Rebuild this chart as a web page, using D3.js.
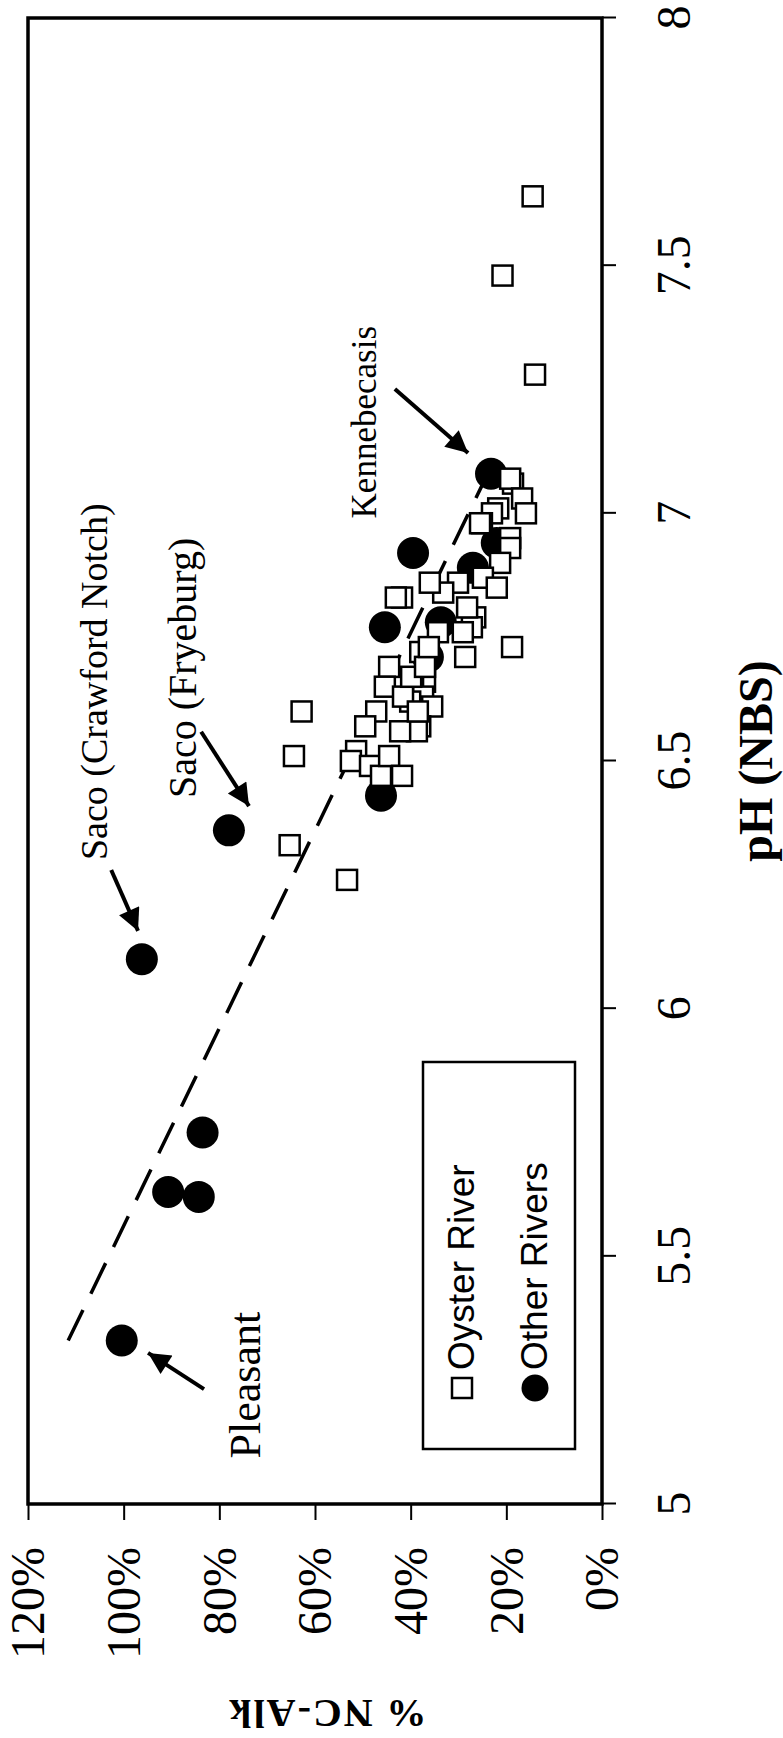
<!DOCTYPE html>
<html>
<head>
<meta charset="utf-8">
<script src="https://cdn.jsdelivr.net/npm/d3@7"></script>
<style>
  html, body { margin: 0; padding: 0; background: #fff; }
  svg { display: block; }
  text { fill: #000; }
</style>
</head>
<body>
<div id="chart"></div>
<script>
// series values: [% NC-Alk, pH]
const oysterRiver = [
  [14.5, 7.64], [20.8, 7.48], [14.0, 7.28],
  [18.6, 7.06], [19.2, 7.07], [16.7, 7.03], [15.9, 7.00], [21.7, 7.01], [23.0, 7.00],
  [25.1, 6.98], [25.5, 6.98], [19.2, 6.95], [19.2, 6.93], [21.3, 6.90], [24.9, 6.87],
  [22.0, 6.85], [26.5, 6.79], [27.2, 6.77], [28.2, 6.81], [29.1, 6.76], [18.8, 6.73],
  [28.6, 6.71], [30.1, 6.86], [33.2, 6.84], [36.0, 6.86], [34.3, 6.76], [38.0, 6.72],
  [37.0, 6.66], [39.5, 6.65], [37.4, 6.63], [40.1, 6.62], [35.5, 6.61], [38.0, 6.57],
  [38.7, 6.56], [41.8, 6.83], [43.1, 6.83], [44.5, 6.69], [45.4, 6.65], [47.2, 6.60],
  [49.5, 6.57], [51.4, 6.52], [52.5, 6.50], [48.5, 6.49], [46.2, 6.47], [44.5, 6.51],
  [42.2, 6.56], [41.6, 6.63], [39.9, 6.67], [38.5, 6.60], [37.0, 6.69], [36.2, 6.73],
  [41.8, 6.47],
  [62.8, 6.60], [64.4, 6.51], [65.3, 6.33], [53.3, 6.26]
];
const otherRivers = [
  [100.4, 5.33], [90.7, 5.63], [84.3, 5.62], [83.5, 5.75],
  [96.2, 6.10], [78.0, 6.36],
  [46.2, 6.43], [45.4, 6.77],
  [23.2, 7.08], [22.0, 6.94], [39.5, 6.92], [27.0, 6.89], [33.7, 6.78], [36.4, 6.71]
];
// dashed trend line endpoints
const trend = [[111.6, 5.33], [24.9, 7.06]];

// annotations: label position [pct, pH], arrow tail and tip [pct, pH]
const notes = [
  { label: 'Pleasant', size: 44, at: [71.5, 5.24], tail: [83.2, 5.232], tip: [94.9, 5.305] },
  { label: 'Saco (Crawford Notch)', size: 38, at: [103.5, 6.66], tail: [102.6, 6.28], tip: [97.0, 6.157] },
  { label: 'Saco (Fryeburg)', size: 40, at: [84.9, 6.688], tail: [83.8, 6.559], tip: [73.8, 6.409] },
  { label: 'Kennebecasis', size: 35, at: [47.3, 7.184], tail: [43.3, 7.251], tip: [28.0, 7.122] }
];

const phTicks = [5, 5.5, 6, 6.5, 7, 7.5, 8];
const pctTicks = [0, 20, 40, 60, 80, 100, 120];
const seriesNames = ['Oyster River', 'Other Rivers'];

const W = 783, H = 1738;
const serif = 'Liberation Serif, Times New Roman, serif';
const sans = 'Liberation Sans, Arial, sans-serif';

const svg = d3.select('#chart').append('svg')
  .attr('width', W)
  .attr('height', H);

// the figure is laid out landscape and turned a quarter turn
const g = svg.append('g')
  .attr('transform', `translate(0,${H}) rotate(-90)`);

const x = d3.scaleLinear().domain([5, 8]).range([234, 1720]);
const y = d3.scaleLinear().domain([0, 120]).range([602, 28]);

// x axis (pH)
const xAxis = d3.axisBottom(x)
  .tickValues(phTicks)
  .tickSize(14)
  .tickFormat(d => String(d));

const gx = g.append('g')
  .attr('transform', `translate(0,${y(0)})`)
  .call(xAxis);
gx.select('.domain').remove();
gx.selectAll('line').attr('stroke', '#000').attr('stroke-width', 2);
gx.selectAll('text')
  .attr('y', 88)
  .attr('dy', 0)
  .style('font-family', serif)
  .style('font-size', '48px');

// y axis (% NC-Alk)
const yAxis = d3.axisLeft(y)
  .tickValues(pctTicks)
  .tickSize(16)
  .tickFormat(d => d + '%');

const gy = g.append('g')
  .attr('transform', `translate(${x(5)},0)`)
  .call(yAxis);
gy.select('.domain').remove();
gy.selectAll('line').attr('stroke', '#000').attr('stroke-width', 2);
gy.selectAll('text')
  .attr('x', -43)
  .attr('dy', '0.33em')
  .style('font-family', serif)
  .style('font-size', '48px');

// plot frame
g.append('rect')
  .attr('x', x(5))
  .attr('y', y(120))
  .attr('width', x(8) - x(5))
  .attr('height', y(0) - y(120))
  .attr('fill', 'none')
  .attr('stroke', '#000')
  .attr('stroke-width', 3.5);

// axis titles
g.append('text')
  .attr('x', (x(5) + x(8)) / 2)
  .attr('y', 772)
  .attr('text-anchor', 'middle')
  .style('font-family', serif)
  .style('font-size', '48px')
  .style('font-weight', 'bold')
  .text('pH (NBS)');

g.append('text')
  .attr('transform', `translate(38,${(y(0) + y(120)) / 2 + 12}) rotate(-90)`)
  .attr('text-anchor', 'middle')
  .style('font-family', serif)
  .style('font-size', '40px')
  .style('font-weight', 'bold')
  .style('letter-spacing', '2px')
  .text('% NC-Alk');

// trend line
g.append('line')
  .attr('x1', x(trend[0][1])).attr('y1', y(trend[0][0]))
  .attr('x2', x(trend[1][1])).attr('y2', y(trend[1][0]))
  .attr('stroke', '#000')
  .attr('stroke-width', 3.5)
  .attr('stroke-dasharray', '34 18');

// Other Rivers
g.append('g').selectAll('circle')
  .data(otherRivers)
  .enter()
  .append('circle')
  .attr('cx', d => x(d[1]))
  .attr('cy', d => y(d[0]))
  .attr('r', 16)
  .attr('fill', '#000');

// Oyster River
const sq = 20;
g.append('g').selectAll('rect')
  .data(oysterRiver)
  .enter()
  .append('rect')
  .attr('x', d => x(d[1]) - sq / 2)
  .attr('y', d => y(d[0]) - sq / 2)
  .attr('width', sq)
  .attr('height', sq)
  .attr('fill', '#fff')
  .attr('stroke', '#000')
  .attr('stroke-width', 2.5);

// annotations
svg.append('defs').append('marker')
  .attr('id', 'head')
  .attr('viewBox', '0 0 10 10')
  .attr('refX', 10)
  .attr('refY', 5)
  .attr('markerUnits', 'userSpaceOnUse')
  .attr('markerWidth', 26)
  .attr('markerHeight', 22)
  .attr('orient', 'auto')
  .append('path')
  .attr('d', 'M0,0L10,5L0,10Z')
  .attr('fill', '#000');

const ann = g.append('g');
ann.selectAll('line')
  .data(notes)
  .enter()
  .append('line')
  .attr('x1', d => x(d.tail[1])).attr('y1', d => y(d.tail[0]))
  .attr('x2', d => x(d.tip[1])).attr('y2', d => y(d.tip[0]))
  .attr('stroke', '#000')
  .attr('stroke-width', 4)
  .attr('marker-end', 'url(#head)');

ann.selectAll('text')
  .data(notes)
  .enter()
  .append('text')
  .attr('x', d => x(d.at[1]))
  .attr('y', d => y(d.at[0]))
  .attr('text-anchor', 'middle')
  .style('font-family', serif)
  .style('font-size', d => d.size + 'px')
  .text(d => d.label);

// legend
const leg = g.append('g');
leg.append('rect')
  .attr('x', 289).attr('y', 423)
  .attr('width', 387).attr('height', 152)
  .attr('fill', '#fff')
  .attr('stroke', '#000')
  .attr('stroke-width', 2.5);

leg.append('rect')
  .attr('x', 340).attr('y', 452)
  .attr('width', 20).attr('height', 20)
  .attr('fill', '#fff')
  .attr('stroke', '#000')
  .attr('stroke-width', 2.5);
leg.append('circle')
  .attr('cx', 350).attr('cy', 535)
  .attr('r', 13.5)
  .attr('fill', '#000');

leg.selectAll('text')
  .data(seriesNames)
  .enter()
  .append('text')
  .attr('x', 368)
  .attr('y', (d, i) => 474 + i * 73)
  .style('font-family', sans)
  .style('font-size', '37px')
  .text(d => d);
</script>
</body>
</html>
